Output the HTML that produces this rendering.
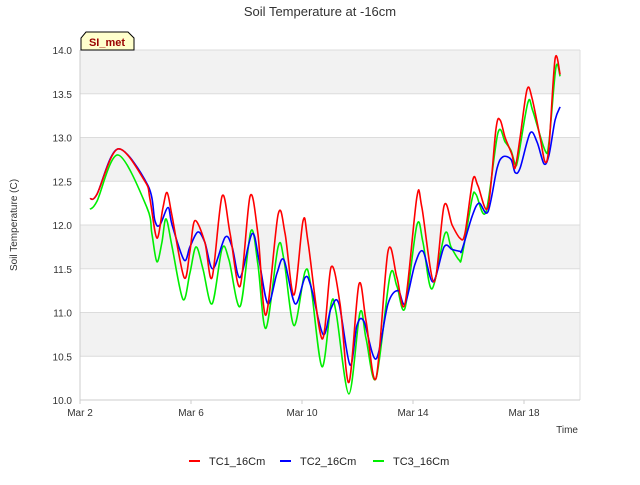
<!DOCTYPE html>
<html><head><meta charset="utf-8"><style>
body{margin:0;background:#fff;font-family:"Liberation Sans",sans-serif}
svg text{font-family:"Liberation Sans",sans-serif}
</style></head><body>
<svg id="c" width="640" height="480"></svg>
<script>
const yTicks=[10.0,10.5,11.0,11.5,12.0,12.5,13.0,13.5,14.0];
const xTickLabels=["Mar 2","Mar 6","Mar 10","Mar 14","Mar 18"];
const xTickDays=[0,4,8,12,16];
const tc1Days=[0.36,0.61,1.37,2.34,2.52,2.77,2.99,3.14,3.32,3.75,3.96,4.14,4.50,4.76,5.12,5.41,5.77,6.13,6.41,6.70,7.14,7.39,7.71,8.04,8.22,8.72,9.05,9.37,9.69,10.05,10.31,10.67,11.10,11.42,11.71,12.14,12.32,12.76,13.12,13.41,13.69,13.87,14.16,14.34,14.70,14.99,15.14,15.32,15.57,15.68,15.86,16.11,16.29,16.58,16.76,16.90,17.12,17.30];
const tc1Vals=[12.3,12.35,12.87,12.5,12.3,11.85,12.2,12.37,12.1,11.4,11.7,12.05,11.8,11.4,12.33,11.9,11.3,12.33,11.9,10.97,12.12,11.9,11.2,12.05,11.8,10.7,11.52,11.1,10.2,11.32,10.9,10.25,11.7,11.4,11.1,12.32,12.2,11.35,12.22,12.0,11.85,11.9,12.52,12.45,12.2,13.1,13.2,13.0,12.8,12.65,13.0,13.55,13.45,13.0,12.72,12.9,13.9,13.72];
const tc2Days=[0.36,0.61,1.37,2.45,2.70,2.88,3.17,3.32,3.75,3.96,4.25,4.50,4.79,5.23,5.48,5.77,6.20,6.45,6.77,7.10,7.35,7.75,8.11,8.32,8.76,9.05,9.33,9.73,9.98,10.23,10.67,11.10,11.46,11.71,12.07,12.36,12.72,13.12,13.41,13.69,13.77,14.13,14.38,14.70,15.03,15.24,15.53,15.68,15.86,16.22,16.47,16.72,16.90,17.12,17.30];
const tc2Vals=[12.3,12.35,12.87,12.45,12.05,12.0,12.2,12.0,11.6,11.75,11.92,11.8,11.5,11.86,11.75,11.4,11.9,11.6,11.1,11.45,11.6,11.1,11.4,11.3,10.75,11.05,11.1,10.4,10.85,10.9,10.47,11.1,11.25,11.1,11.55,11.7,11.35,11.75,11.72,11.7,11.72,12.1,12.25,12.15,12.65,12.78,12.75,12.6,12.65,13.05,12.95,12.7,12.8,13.2,13.35];
const tc3Days=[0.36,0.61,1.37,2.41,2.59,2.77,2.95,3.10,3.32,3.71,3.96,4.18,4.43,4.76,5.12,5.37,5.77,6.16,6.41,6.70,7.14,7.35,7.71,8.11,8.32,8.72,9.05,9.23,9.69,10.09,10.31,10.67,11.17,11.42,11.71,12.14,12.36,12.68,13.15,13.37,13.66,13.77,14.13,14.27,14.63,15.06,15.32,15.53,15.68,15.78,16.14,16.32,16.76,16.90,17.15,17.30];
const tc3Vals=[12.18,12.27,12.8,12.2,11.9,11.58,11.8,12.07,11.75,11.15,11.45,11.75,11.5,11.1,11.73,11.6,11.07,11.93,11.55,10.82,11.75,11.6,10.85,11.47,11.3,10.38,11.1,11.0,10.07,11.0,10.7,10.25,11.42,11.3,11.05,12.0,11.8,11.27,11.9,11.75,11.6,11.65,12.3,12.35,12.15,13.05,12.95,12.85,12.7,12.75,13.4,13.3,12.85,12.95,13.8,13.7];
const seriesNames=["TC1_16Cm","TC2_16Cm","TC3_16Cm"];
const colors=["#ff0000","#0000ff","#00ee00"];

const NS="http://www.w3.org/2000/svg",svg=document.getElementById('c');
const L=80,R=580,T=50,B=400;
const xs=d=>L+d*27.75;
const ys=v=>B-(v-10)*87.5;
function mk(t,a,p){const e=document.createElementNS(NS,t);for(const k in a)e.setAttribute(k,a[k]);(p||svg).appendChild(e);return e;}
let t=mk('text',{x:320,y:16,'text-anchor':'middle','font-size':13,fill:'#333'});t.textContent='Soil Temperature at -16cm';


for(let i=0;i<yTicks.length-1;i++){
  if(i%2==1){const r=mk('rect',{x:L,y:ys(yTicks[i+1]),width:R-L,height:ys(yTicks[i])-ys(yTicks[i+1]),fill:'#f2f2f2'});
  
  }
}
yTicks.forEach(v=>{
  const g=mk('line',{x1:L,x2:R,y1:ys(v),y2:ys(v),stroke:'#dcdcdc'});
  
  
  const tx=mk('text',{x:72,y:ys(v)+4,'text-anchor':'end','font-size':10,fill:'#333'});tx.textContent=v.toFixed(1);
  
  
});
mk('line',{x1:L,x2:L,y1:T,y2:B,stroke:'#ccc'});
mk('line',{x1:R,x2:R,y1:T,y2:B,stroke:'#ddd'});
mk('line',{x1:L,x2:R,y1:B,y2:B,stroke:'#ccc'});
xTickDays.forEach((d,i)=>{
  mk('line',{x1:xs(d),x2:xs(d),y1:B,y2:B+4,stroke:'#ccc'});
  const tx=mk('text',{x:xs(d),y:416,'text-anchor':'middle','font-size':10,fill:'#333'});tx.textContent=xTickLabels[i];
  
  
});
t=mk('text',{x:578,y:433,'text-anchor':'end','font-size':10,fill:'#333'});t.textContent='Time';


t=mk('text',{x:17,y:225,'text-anchor':'middle','font-size':10,fill:'#333',transform:'rotate(-90 17 225)'});t.textContent='Soil Temperature (C)';


function smooth(P){
  let d='M'+P[0][0].toFixed(1)+','+P[0][1].toFixed(1);
  for(let i=0;i<P.length-1;i++){
    const p0=P[Math.max(0,i-1)],p1=P[i],p2=P[i+1],p3=P[Math.min(P.length-1,i+2)];
    const k=0.16;
    const c1=[p1[0]+(p2[0]-p0[0])*k,p1[1]+(p2[1]-p0[1])*k];
    const c2=[p2[0]-(p3[0]-p1[0])*k,p2[1]-(p3[1]-p1[1])*k];
    d+=' C'+c1.map(n=>n.toFixed(1))+' '+c2.map(n=>n.toFixed(1))+' '+p2[0].toFixed(1)+','+p2[1].toFixed(1);
  }
  return d;
}
const all=[[tc1Days,tc1Vals],[tc2Days,tc2Vals],[tc3Days,tc3Vals]];
[2,1,0].forEach(i=>{
  const [d,v]=all[i];
  const p=mk('path',{d:smooth(d.map((x,j)=>[xs(x),ys(v[j])])),fill:'none',stroke:colors[i],'stroke-width':1.6,'stroke-linejoin':'round'});
  
  
});
const b=mk('path',{d:'M81,50 L81,38 L86,32 L128,32 L134,38 L134,50 Z',fill:'#ffffcc',stroke:'#000','stroke-width':1});


t=mk('text',{x:107,y:46,'text-anchor':'middle','font-size':11,'font-weight':'bold',fill:'#990000'});t.textContent='SI_met';


const lx=[189,280,373];
seriesNames.forEach((n,i)=>{
  const g=mk('g',{});
  
  
  mk('line',{x1:lx[i],x2:lx[i]+11,y1:461,y2:461,stroke:colors[i],'stroke-width':2},g);
  const tx=mk('text',{x:lx[i]+20,y:465,'font-size':11,fill:'#222'},g);tx.textContent=n;
});
</script>
</body></html>
